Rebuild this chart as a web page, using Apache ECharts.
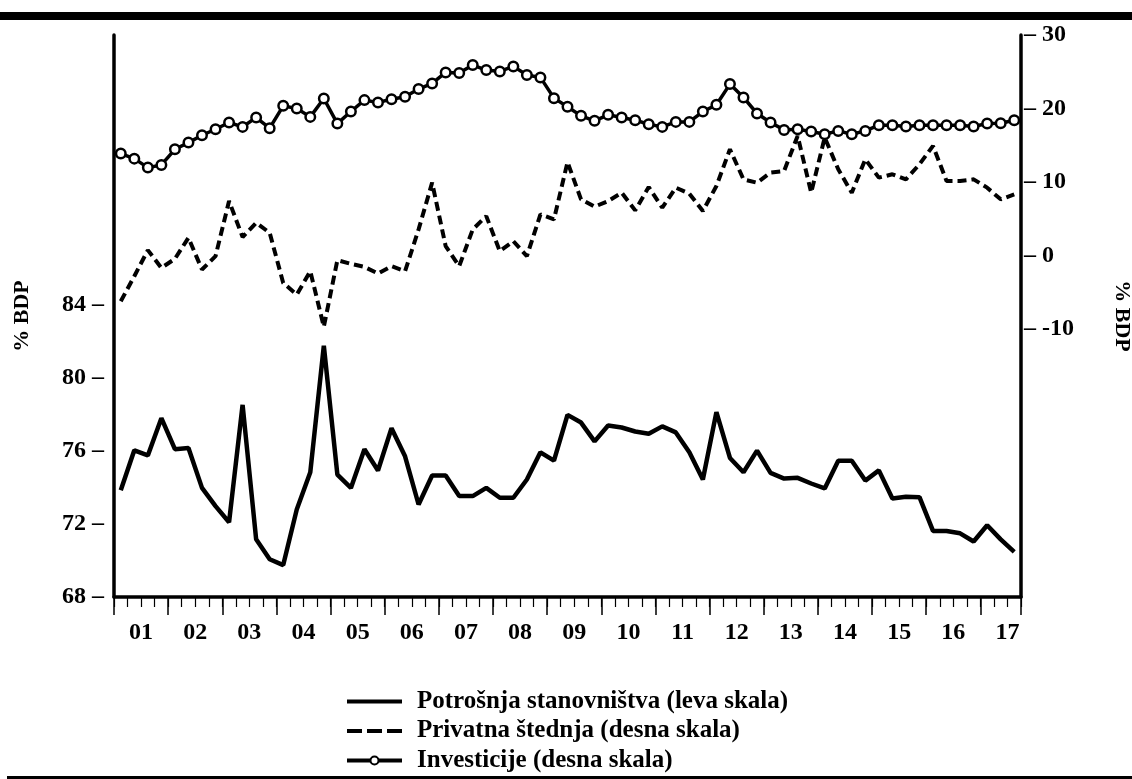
<!DOCTYPE html>
<html>
<head>
<meta charset="utf-8">
<script src="https://cdn.jsdelivr.net/npm/echarts@6/dist/echarts.min.js"></script>
<style>
  html, body { margin: 0; padding: 0; background: #fff; }
  #chart { width: 1132px; height: 779px; }
</style>
</head>
<body>
<div id="chart"></div>
<script>
// kvartali 2001Q1 - 2017Q3
const years = ['01','02','03','04','05','06','07','08','09','10','11','12','13','14','15','16','17'];
const quarters = [];
years.forEach(y => {
  for (let q = 1; q <= 4; q++) {
    if (y === '17' && q > 3) break;
    quarters.push(y + 'Q' + q);
  }
});

// potrošnja stanovništva, % BDP (leva skala)
const consumption = [73.85, 76.04, 75.76, 77.8, 76.1, 76.17, 73.98, 72.98, 72.1, 78.53,
  71.16, 70.07, 69.75, 72.8, 74.84, 81.77, 74.71, 73.98, 76.1, 74.93,
  77.25, 75.71, 73.07, 74.66, 74.66, 73.53, 73.53, 73.98, 73.44, 73.44,
  74.44, 75.93, 75.47, 77.98, 77.56, 76.53, 77.4, 77.29, 77.07, 76.95,
  77.35, 77.02, 75.93, 74.44, 78.13, 75.62, 74.84, 76.02, 74.8, 74.49,
  74.53, 74.22, 73.95, 75.47, 75.47, 74.38, 74.94, 73.4, 73.49, 73.47,
  71.62, 71.62, 71.49, 71.04, 71.93, 71.16, 70.47];

// privatna štednja, % BDP (desna skala)
const savings = [-6.23, -2.82, 0.73, -1.68, -0.45, 2.41, -1.91, -0.09, 7.41, 2.5,
  4.45, 3.09, -3.73, -5.32, -2.14, -9.7, -0.64, -1.14, -1.55, -2.45,
  -1.45, -2.14, 3.55, 9.91, 1.27, -1.45, 3.55, 5.36, 0.59, 1.95,
  -0.09, 5.59, 4.91, 12.7, 7.64, 6.64, 7.41, 8.55, 6.14, 9.32,
  6.5, 9.23, 8.41, 6.05, 9.45, 14.45, 10.36, 9.91, 11.27, 11.5,
  16.27, 8.55, 16.05, 11.73, 8.55, 13.09, 10.59, 11.05, 10.36, 12.41,
  14.91, 10.14, 10.14, 10.36, 9.23, 7.64, 8.32];

// investicije, % BDP (desna skala)
const investment = [13.87, 13.18, 11.96, 12.32, 14.45, 15.36, 16.36, 17.18, 18.09, 17.5,
  18.77, 17.32, 20.36, 20.0, 18.86, 21.36, 17.95, 19.59, 21.14, 20.82,
  21.27, 21.59, 22.64, 23.41, 24.91, 24.82, 25.91, 25.23, 25.05, 25.73,
  24.55, 24.23, 21.41, 20.23, 19.0, 18.32, 19.14, 18.77, 18.41, 17.86,
  17.5, 18.18, 18.18, 19.59, 20.5, 23.32, 21.5, 19.32, 18.09, 17.09,
  17.18, 16.86, 16.5, 16.95, 16.5, 16.95, 17.73, 17.73, 17.55, 17.73,
  17.73, 17.73, 17.73, 17.55, 17.95, 18.0, 18.41];

const leftTicks = [68, 72, 76, 80, 84];
const rightTicks = [-10, 0, 10, 20, 30];

const seriesNames = [
  'Potrošnja stanovništva (leva skala)',
  'Privatna štednja (desna skala)',
  'Investicije (desna skala)'
];

const font = "'Liberation Serif', 'Times New Roman', serif";
const black = '#000';

let myChart = echarts.init(document.getElementById('chart'));

let option = {
  animation: false,
  backgroundColor: '#fff',
  textStyle: { fontFamily: font, color: black },
  grid: { left: 114, right: 111, top: 35, bottom: 182, containLabel: false, outerBoundsMode: 'none' },
  // okvir stranice
  graphic: [
    { type: 'rect', shape: { x: 0, y: 12, width: 1132, height: 8 }, style: { fill: black } },
    { type: 'rect', shape: { x: 7, y: 776, width: 1125, height: 3 }, style: { fill: black } }
  ],
  legend: {
    orient: 'vertical',
    left: 345,
    top: 689,
    height: 90,
    padding: 0,
    itemWidth: 55,
    itemHeight: 10,
    itemGap: 4.5,
    textStyle: { fontFamily: font, fontWeight: 'bold', fontSize: 25, color: black, lineHeight: 22, padding: [0, 0, 0, 10] },
    data: [
      { name: seriesNames[0], itemStyle: { opacity: 0 }, lineStyle: { width: 4, color: black } },
      { name: seriesNames[1], itemStyle: { opacity: 0 }, lineStyle: { width: 4, color: black, type: [15, 5] } },
      { name: seriesNames[2], lineStyle: { width: 4, color: black } }
    ]
  },
  xAxis: [
    {
      type: 'category',
      data: quarters,
      boundaryGap: true,
      axisLine: { onZero: false, lineStyle: { color: black, width: 3.5 } },
      axisTick: { show: true, interval: 0, length: 10, lineStyle: { color: black, width: 1.2 } },
      axisLabel: {
        interval: (idx) => idx % 4 === 1,
        formatter: (v) => v.slice(0, 2),
        padding: [0, 0, 0, 13.5],
        margin: 24,
        fontFamily: font,
        fontWeight: 'bold',
        fontSize: 24,
        color: black
      },
      splitLine: { show: false }
    },
    {
      type: 'category',
      data: quarters,
      position: 'bottom',
      boundaryGap: true,
      axisLine: { show: false, onZero: false },
      axisTick: { show: true, interval: (idx) => idx % 4 === 0, length: 18, lineStyle: { color: black, width: 1.5 } },
      axisLabel: { show: false },
      splitLine: { show: false }
    }
  ],
  yAxis: [
    {
      type: 'value',
      position: 'left',
      min: 68,
      max: 98.8,
      name: '% BDP',
      nameLocation: 'middle',
      nameRotate: 90,
      nameGap: 81,
      nameTextStyle: { fontFamily: font, fontWeight: 'bold', fontSize: 22, color: black },
      axisLine: { show: true, lineStyle: { color: black, width: 3.5 } },
      axisTick: { show: false },
      axisLabel: {
        customValues: leftTicks,
        formatter: (v) => v + ' –',
        margin: 10,
        fontFamily: font,
        fontWeight: 'bold',
        fontSize: 24,
        color: black
      },
      splitLine: { show: false }
    },
    {
      type: 'value',
      position: 'right',
      min: -46.46,
      max: 30,
      name: '% BDP',
      nameLocation: 'middle',
      nameRotate: -90,
      nameGap: 90,
      nameTextStyle: { fontFamily: font, fontWeight: 'bold', fontSize: 22, color: black },
      axisLine: { show: true, lineStyle: { color: black, width: 3.5 } },
      axisTick: { show: false },
      axisLabel: {
        customValues: rightTicks,
        formatter: (v) => '– ' + v,
        margin: 3,
        fontFamily: font,
        fontWeight: 'bold',
        fontSize: 24,
        color: black
      },
      splitLine: { show: false }
    }
  ],
  series: [
    {
      name: seriesNames[0],
      type: 'line',
      xAxisIndex: 0,
      yAxisIndex: 0,
      data: consumption,
      symbol: 'none',
      lineStyle: { color: black, width: 4.5 },
      itemStyle: { color: black },
      z: 3
    },
    {
      name: seriesNames[1],
      type: 'line',
      xAxisIndex: 0,
      yAxisIndex: 1,
      data: savings,
      symbol: 'none',
      lineStyle: { color: black, width: 4, type: [9, 5] },
      itemStyle: { color: black },
      z: 3
    },
    {
      name: seriesNames[2],
      type: 'line',
      xAxisIndex: 0,
      yAxisIndex: 1,
      data: investment,
      symbol: 'circle',
      symbolSize: 9.5,
      showAllSymbol: true,
      lineStyle: { color: black, width: 3.5 },
      itemStyle: { color: '#fff', borderColor: black, borderWidth: 2.5 },
      z: 4
    }
  ]
};

myChart.setOption(option);
window.addEventListener('resize', () => { myChart.resize(); });
</script>
</body>
</html>
